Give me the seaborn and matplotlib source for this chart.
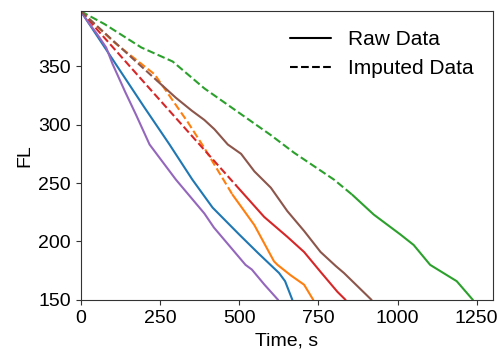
import numpy as np
import pandas as pd
import matplotlib
matplotlib.use("Agg")
import matplotlib.pyplot as plt
from matplotlib.lines import Line2D
import seaborn as sns

# Flight level profiles
# each flight: imputed (dashed) part, then raw (solid) part
blue_raw_t = [0, 100, 200, 280, 352, 416, 500, 560, 626, 645, 668]
blue_raw_fl = [397, 356, 315, 283, 253, 229, 206, 190, 173, 166, 150]

orange_imp_t = [0, 107, 233, 338, 390, 479]
orange_imp_fl = [397, 370, 343, 302, 280, 240]
orange_raw_t = [479, 495, 548, 610, 621, 663, 705, 734]
orange_raw_fl = [240, 234, 214, 183, 180, 171, 163, 150]

green_imp_t = [0, 75, 191, 290, 390, 495, 600, 673, 799, 857]
green_imp_fl = [397, 386, 366, 354, 331, 311, 291, 276, 253, 240]
green_raw_t = [857, 925, 1009, 1051, 1103, 1145, 1187, 1238]
green_raw_fl = [240, 223, 206, 197, 180, 173, 166, 150]

red_imp_t = [0, 243, 490]
red_imp_fl = [397, 323, 248]
red_raw_t = [490, 579, 652, 705, 757, 810, 836]
red_raw_fl = [248, 221, 204, 191, 174, 157, 150]

purple_raw_t = [0, 25, 50, 80, 100, 140, 175, 217, 300, 390, 420, 520, 540, 580, 623]
purple_raw_fl = [397, 387, 378, 366, 352, 328, 308, 283, 253, 224, 212, 180, 176, 163, 150]

brown_imp_t = [0, 243]
brown_imp_fl = [397, 337]
brown_raw_t = [243, 300, 350, 390, 422, 464, 506, 548, 600, 652, 705, 757, 805, 831, 918]
brown_raw_fl = [337, 323, 312, 304, 296, 283, 275, 260, 246, 226, 209, 191, 179, 173, 150]

flights = ["f1", "f2", "f3", "f4", "f5", "f6"]
segments = [
    ("f1", "Raw Data", blue_raw_t, blue_raw_fl),
    ("f2", "Imputed Data", orange_imp_t, orange_imp_fl),
    ("f2", "Raw Data", orange_raw_t, orange_raw_fl),
    ("f3", "Imputed Data", green_imp_t, green_imp_fl),
    ("f3", "Raw Data", green_raw_t, green_raw_fl),
    ("f4", "Imputed Data", red_imp_t, red_imp_fl),
    ("f4", "Raw Data", red_raw_t, red_raw_fl),
    ("f5", "Raw Data", purple_raw_t, purple_raw_fl),
    ("f6", "Imputed Data", brown_imp_t, brown_imp_fl),
    ("f6", "Raw Data", brown_raw_t, brown_raw_fl),
]

frames = []
for flight, kind, t, fl in segments:
    frames.append(pd.DataFrame({"time": t, "FL": fl, "flight": flight, "kind": kind}))
df = pd.concat(frames, ignore_index=True)

sns.set_style("ticks", {"axes.edgecolor": "0.2", "xtick.color": "0.2", "ytick.color": "0.2"})
plt.rcParams["font.family"] = ["Liberation Sans", "DejaVu Sans"]
plt.rcParams["text.color"] = "black"
plt.rcParams["axes.labelcolor"] = "black"

fig = plt.figure(figsize=(4.99, 3.52), dpi=100)
ax = fig.add_axes([0.162, 0.148, 0.825, 0.820])

sns.lineplot(data=df, x="time", y="FL", hue="flight", style="kind",
             hue_order=flights, palette="tab10",
             style_order=["Raw Data", "Imputed Data"],
             dashes={"Raw Data": "", "Imputed Data": (3.7, 1.6)},
             estimator=None, sort=False, linewidth=1.5, legend=False, ax=ax)

ax.set_xlim(0, 1300)
ax.set_ylim(150, 397)
ax.set_xticks([0, 250, 500, 750, 1000, 1250])
ax.set_yticks([150, 200, 250, 300, 350])
ax.tick_params(labelsize=14, labelcolor="black")
ax.set_xlabel("Time, s", fontsize=14)
ax.set_ylabel("FL", fontsize=14)

handles = [Line2D([0], [0], color="black", lw=1.5, ls="-"),
           Line2D([0], [0], color="black", lw=1.5, ls="--")]
ax.legend(handles, ["Raw Data", "Imputed Data"], frameon=False,
          loc="upper right", fontsize=15)

fig.savefig("out.png", dpi=100)
